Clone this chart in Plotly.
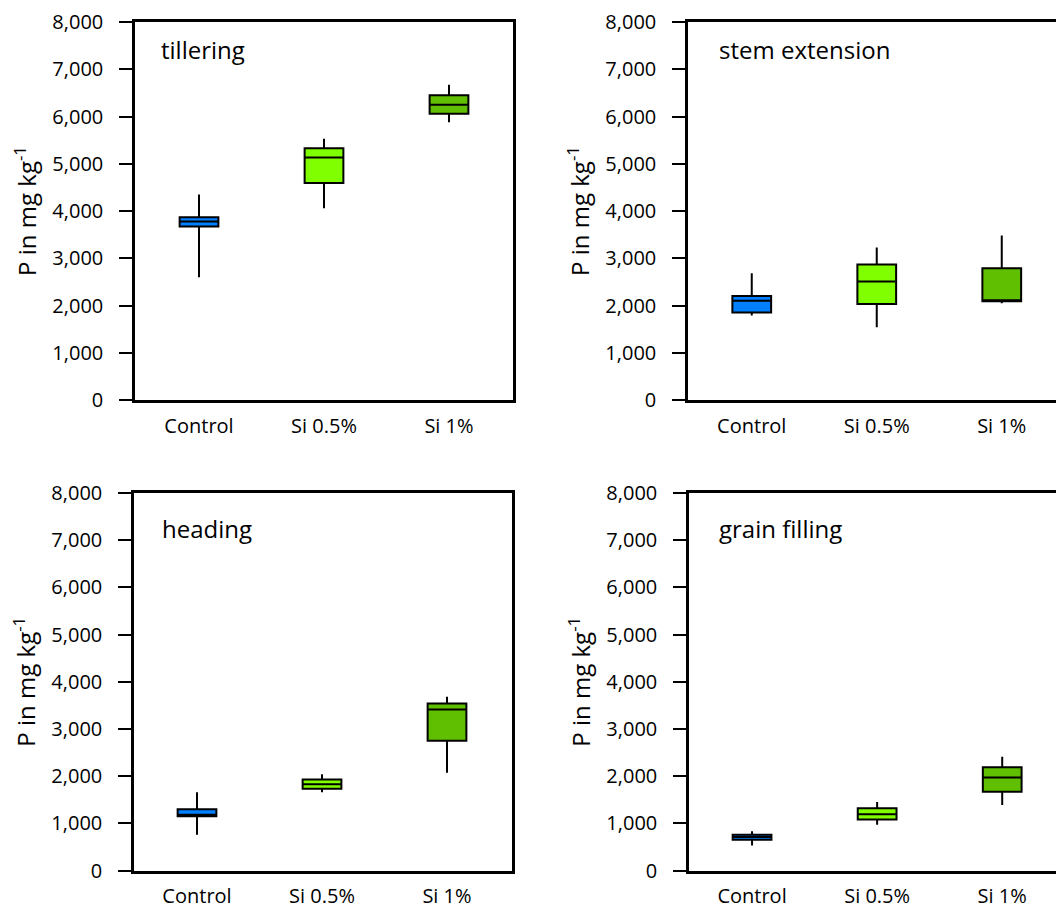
import plotly.graph_objects as go

categories = ["Control", "Si 0.5%", "Si 1%"]
stages = ["tillering", "stem extension", "heading", "grain filling"]
colors = ["#0080FF", "#80FF00", "#60BF00"]

# box statistics per stage, per category (mg/kg)
tillering_low = [2600, 4060, 5880]
tillering_q1 = [3670, 4590, 6060]
tillering_med = [3780, 5130, 6250]
tillering_q3 = [3870, 5330, 6450]
tillering_high = [4350, 5530, 6670]

stem_low = [1790, 1540, 2050]
stem_q1 = [1850, 2030, 2090]
stem_med = [2100, 2510, 2095]
stem_q3 = [2200, 2870, 2790]
stem_high = [2680, 3230, 3480]

heading_low = [760, 1660, 2070]
heading_q1 = [1150, 1730, 2750]
heading_med = [1180, 1830, 3410]
heading_q3 = [1300, 1930, 3540]
heading_high = [1660, 2040, 3680]

grain_low = [530, 970, 1390]
grain_q1 = [650, 1080, 1670]
grain_med = [710, 1190, 1970]
grain_q3 = [760, 1320, 2190]
grain_high = [830, 1450, 2410]

y_ticks = [0, 1000, 2000, 3000, 4000, 5000, 6000, 7000, 8000]

stats = [
    (tillering_low, tillering_q1, tillering_med, tillering_q3, tillering_high),
    (stem_low, stem_q1, stem_med, stem_q3, stem_high),
    (heading_low, heading_q1, heading_med, heading_q3, heading_high),
    (grain_low, grain_q1, grain_med, grain_q3, grain_high),
]

W, H = 1056, 906
FONT = "Open Sans"

# pixel frames of each panel: (left, right, top, bottom)
frames = [(135, 513, 22, 400), (688, 1056, 22, 400), (134, 512, 493, 870.5), (689, 1056, 493, 870.5)]
xranges = [[-0.512, 2.512], [-0.51, 2.434], [-0.504, 2.52], [-0.504, 2.43]]
label_pos = [(159, 50), (717, 50), (160, 528), (717, 528)]

fig = go.Figure()

for p in range(4):
    low, q1, med, q3, high = stats[p]
    ax = "" if p == 0 else str(p + 1)
    for i, cat in enumerate(categories):
        fig.add_trace(go.Box(
            x=[cat], lowerfence=[low[i]], q1=[q1[i]], median=[med[i]], q3=[q3[i]],
            upperfence=[high[i]],
            fillcolor=colors[i], line=dict(color="black", width=2),
            whiskerwidth=0, width=0.31, boxpoints=False, showlegend=False,
            hoverinfo="skip",
            xaxis="x" + ax, yaxis="y" + ax,
        ))
    l, r, t, b = frames[p]
    right_cut = r >= W
    fig.layout["xaxis" + ax] = dict(
        domain=[l / W, min(r / W, 1.0)], anchor="y" + ax, automargin=False,
        type="category", categoryorder="array", categoryarray=categories,
        range=xranges[p], showline=True, linecolor="black", linewidth=2.5,
        mirror=True, ticks="", showgrid=False, zeroline=False,
        tickfont=dict(family=FONT, size=20, color="black"),
        ticklabelstandoff=6,
    )
    fig.layout["yaxis" + ax] = dict(
        domain=[1 - b / H, 1 - t / H], anchor="x" + ax, automargin=False,
        range=[0, 8000], tickvals=y_ticks, tickformat=",",
        showline=True, linecolor="black", linewidth=2.5,
        mirror=(not right_cut), ticks="outside", ticklen=13, tickwidth=2,
        tickcolor="black", showgrid=False, zeroline=False,
        tickfont=dict(family=FONT, size=20, color="black"),
        ticklabelstandoff=12,
        title=dict(text="P in mg kg<sup>-1</sup>", font=dict(family=FONT, size=24, color="black"),
                   standoff=9),
    )
    lx, ly = label_pos[p]
    fig.add_annotation(
        x=lx / W, y=1 - ly / H, xref="paper", yref="paper", xanchor="left", yanchor="middle",
        text=stages[p], showarrow=False, font=dict(family=FONT, size=24, color="black"),
    )

fig.update_layout(
    template=None,
    width=W, height=H, margin=dict(l=0, r=0, t=0, b=0, pad=0),
    paper_bgcolor="white", plot_bgcolor="white", boxmode="overlay",
)

fig.write_html(
    "out.html",
    config={"displayModeBar": False},
    post_script="document.body.style.margin='0';document.body.style.overflow='hidden';",
)
